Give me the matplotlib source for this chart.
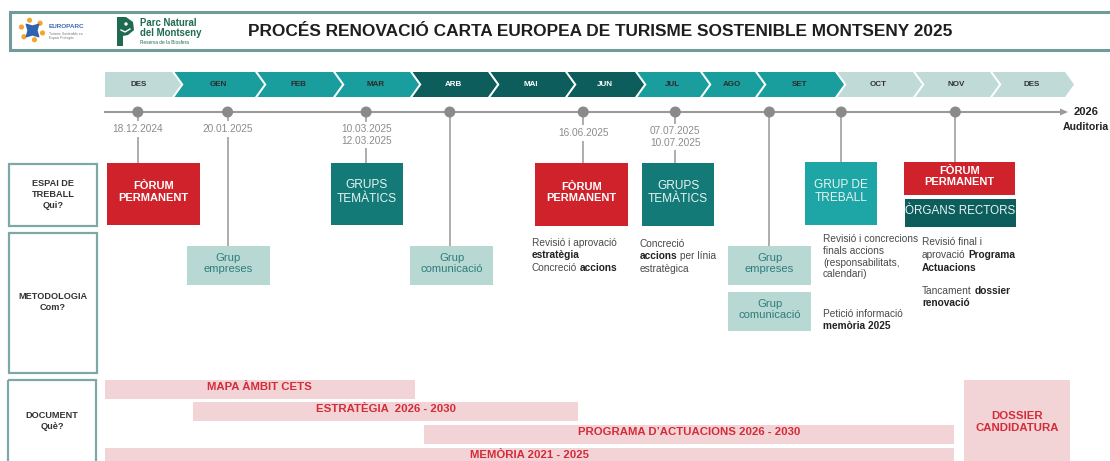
import numpy as np
import matplotlib
matplotlib.use("Agg")
import matplotlib.pyplot as plt
from matplotlib.patches import Rectangle, Polygon, Circle

plt.rcParams['font.family'] = ['Liberation Sans', 'DejaVu Sans']

# ---------------- data ----------------
title = "PROCÉS RENOVACIÓ CARTA EUROPEA DE TURISME SOSTENIBLE MONTSENY 2025"
months = ['DES', 'GEN', 'FEB', 'MAR', 'ARB', 'MAI', 'JUN', 'JUL', 'AGO', 'SET', 'OCT', 'NOV', 'DES']
month_phase = [0, 1, 1, 1, 2, 2, 2, 1, 1, 1, 0, 0, 0]   # 0 light, 1 teal, 2 dark

# events on the timeline, position in month units (0 = start of DES 2024)
event_month = [0.49, 1.67, 3.43, 4.51, 6.26, 7.62, 9.18, 10.08, 11.55]
event_dates = ['18.12.2024', '20.01.2025', '10.03.2025\n12.03.2025', '', '16.06.2025',
               '07.07.2025\n10.07.2025', '', '', '']

doc_labels = ['MAPA ÀMBIT CETS', 'ESTRATÈGIA  2026 - 2030',
              'PROGRAMA D\u2019ACTUACIONS 2026 - 2030', 'MEMÒRIA 2021 - 2025']
doc_start = [0.0, 1.25, 4.18, 0.0]
doc_end = [4.06, 6.19, 11.53, 11.53]
dossier_label = 'DOSSIER\nCANDIDATURA'
dossier_span = [11.66, 13.07]

row_labels = ['ESPAI DE\nTREBALL\nQui?', 'METODOLOGIA\nCom?', 'DOCUMENT\nQuè?']

# ---------------- layout / style ----------------
edges = [105, 172, 255, 333, 410, 488, 565, 635, 700, 755, 835, 913, 990, 1065]
def mx(m):
    m = np.asarray(m, dtype=float)
    base = np.interp(m, np.arange(len(edges)), edges)
    over = np.clip(m - (len(edges) - 1), 0, None) * (edges[-1] - edges[-2])
    return base + over

RED = '#d0222b'
DARK = '#0d5d5d'
MIDT = '#137a77'
TEAL = '#1a9d9d'
TEAL2 = '#1ea5a5'
LIGHT = '#b8d8d4'
CHEV_LIGHT = '#bfdad7'
PINK = '#f2d4d6'
REDTXT = '#d42b3a'
GREY = '#8c8c8c'
OUTL = '#7ea8a6'

fig = plt.figure(figsize=(11.1, 4.61), dpi=100)
ax = fig.add_axes([0, 0, 1, 1])
ax.set_xlim(0, 1110)
ax.set_ylim(461, 0)
ax.axis('off')
renderer = fig.canvas.get_renderer()

# ---------------- header ----------------
ax.plot([10, 1115], [12, 12], color='#6f9c99', lw=2.2, solid_capstyle='butt')
ax.plot([10, 1115], [50, 50], color='#6f9c99', lw=2.2, solid_capstyle='butt')
ax.plot([10, 10], [12, 50], color='#6f9c99', lw=2.2)
ax.text(600, 31, title, fontsize=12.4, fontweight='bold', color='#1e1e1e',
        ha='center', va='center')

# EUROPARC logo
for ang in np.linspace(0, 2 * np.pi, 7)[:-1] + 0.3:
    ax.add_patch(Circle((32 + 11 * np.cos(ang), 30 + 10 * np.sin(ang)), 2.6,
                        color='#f4a52a', lw=0))
ax.scatter([32], [30], marker=(4, 1, 45), s=160, color='#2f63b0', zorder=3)
ax.text(49, 27, 'EUROPARC', fontsize=4.6, fontweight='bold', color='#3b6db5', va='center')
ax.text(49, 34, 'Turisme Sostenible en', fontsize=2.4, color='#777', va='center')
ax.text(49, 38, 'Espais Protegits', fontsize=2.4, color='#777', va='center')

# Parc Natural logo
ax.add_patch(Polygon([[117, 17], [126, 17], [133, 22], [134, 30], [128, 35],
                      [123, 36], [123, 46], [117, 46]], closed=True,
                     facecolor='#1f6b52', edgecolor='none'))
ax.add_patch(Circle((126, 24), 1.7, color='white', lw=0))
ax.plot([121, 125, 130], [30, 32, 29], color='white', lw=1)
ax.text(140, 23, 'Parc Natural', fontsize=6.9, color='#1f6b52', fontweight='bold', va='center')
ax.text(140, 33, 'del Montseny', fontsize=6.9, color='#1f6b52', fontweight='bold', va='center')
ax.text(140, 43, 'Reserva de la Biosfera', fontsize=3.4, color='#1f6b52', va='center')

# ---------------- chevrons ----------------
y0, y1, d, gap = 72, 97, 9, 2.5
ym = (y0 + y1) / 2
phase_col = {0: CHEV_LIGHT, 1: TEAL, 2: DARK}
phase_txt = {0: '#333333', 1: '#2b2b2b', 2: 'white'}
for i, name in enumerate(months):
    L, R = mx(i), mx(i + 1)
    Lg = L + (gap if i > 0 else 0)
    pts = [[Lg, y0], [R, y0], [R + d, ym], [R, y1], [Lg, y1]]
    if i > 0:
        pts.append([Lg + d, ym])
    ax.add_patch(Polygon(pts, closed=True, facecolor=phase_col[month_phase[i]],
                         edgecolor='none'))
    ax.text((L + R) / 2 + (d / 2 if i > 0 else 0), ym, name, fontsize=5.8,
            fontweight='bold', color=phase_txt[month_phase[i]], ha='center', va='center')

# ---------------- timeline ----------------
ax.plot([105, 1062], [112, 112], color='#9a9a9a', lw=1.5, zorder=2)
ax.add_patch(Polygon([[1060, 108.5], [1068, 112], [1060, 115.5]], closed=True,
                     facecolor='#9a9a9a', edgecolor='none'))
ax.text(1074, 112, '2026', fontsize=8, fontweight='bold', color='#222', va='center')
ax.text(1063, 127, 'Auditoria', fontsize=7.6, fontweight='bold', color='#222', va='center')

# targets of each event connector
event_target = [163, 246, 163, 246, 163, 163, 246, 162, 162]
date_y = [129, 129, 135, 0, 133, 137, 0, 0, 0]
for m, lab, ty, dy in zip(event_month, event_dates, event_target, date_y):
    x = float(mx(m))
    ax.plot([x, x], [112, ty], color='#a0a0a0', lw=1.2, zorder=2)
    ax.add_patch(Circle((x, 112), 4.8, color='#8a8a8a', zorder=4))
    if lab:
        ax.text(x, dy, lab, fontsize=7.3, color=GREY, ha='center', va='center',
                linespacing=1.15, zorder=5,
                bbox=dict(boxstyle='square,pad=0.25', fc='white', ec='none'))

# ---------------- row label boxes ----------------
for (bx, by, bw, bh), lab, ty in zip([(9, 164, 88, 62), (9, 233, 88, 140), (8, 380, 88, 95)],
                                     row_labels, [194.5, 302, 421]):
    ax.add_patch(Rectangle((bx, by), bw, bh, facecolor='none', edgecolor=OUTL, lw=1.6))
    ax.text(bx + bw / 2, ty, lab, fontsize=6.6, fontweight='bold', color='#333',
            ha='center', va='center', linespacing=1.3)

# ---------------- boxes ----------------
def box(x, y, w, h, fc, txt, tc, bold, size):
    ax.add_patch(Rectangle((x, y), w, h, facecolor=fc, edgecolor='none', zorder=3))
    ax.text(x + w / 2, y + h / 2 - 2, txt, fontsize=size, fontweight='bold' if bold else 'normal',
            color=tc, ha='center', va='center', linespacing=1.22, zorder=4)

box(107, 163, 93, 62, RED, 'FÒRUM\nPERMANENT', 'white', True, 8)
box(331, 163, 72, 62, MIDT, 'GRUPS\nTEMÀTICS', '#e6f4f3', False, 8.6)
box(535, 163, 93, 63, RED, 'FÒRUM\nPERMANENT', 'white', True, 8)
box(642, 163, 72, 63, MIDT, 'GRUPS\nTEMÀTICS', '#e6f4f3', False, 8.6)
box(805, 162, 72, 63, TEAL2, 'GRUP DE\nTREBALL', '#e6f4f3', False, 8.6)
box(904, 162, 111, 33, RED, 'FÒRUM\nPERMANENT', 'white', True, 8)
box(905, 199, 111, 28, DARK, 'ÒRGANS RECTORS', '#e6f4f3', False, 8.4)

box(187, 246, 83, 39, LIGHT, 'Grup\nempreses', '#2f7d7a', False, 8.1)
box(410, 246, 83, 39, LIGHT, 'Grup\ncomunicació', '#2f7d7a', False, 8.1)
box(728, 246, 83, 39, LIGHT, 'Grup\nempreses', '#2f7d7a', False, 8.1)
box(728, 292, 83, 39, LIGHT, 'Grup\ncomunicació', '#2f7d7a', False, 8.1)

# ---------------- rich descriptions ----------------
DSIZE = 7.3
space_w = 0.26 * DSIZE * 100 / 72
def rich(x, y, segs):
    cx = x
    for k, (s, b) in enumerate(segs):
        t = ax.text(cx, y, s, fontsize=DSIZE, fontweight='bold' if b else 'normal',
                    color='#222' if b else '#4a4a4a', ha='left', va='center', zorder=5)
        cx += t.get_window_extent(renderer=renderer).width + space_w

def block(x, y, lines, step=12.3):
    for i, segs in enumerate(lines):
        rich(x, y + i * step, segs)

block(532, 243, [[('Revisió i aprovació', 0)], [('estratègia', 1)],
                 [('Concreció', 0), ('accions', 1)]])
block(640, 244, [[('Concreció', 0)], [('accions', 1), ('per línia', 0)],
                 [('estratègica', 0)]])
block(823, 239, [[('Revisió i concrecions', 0)], [('finals accions', 0)],
                 [('(responsabilitats,', 0)], [('calendari)', 0)]], step=11.8)
block(823, 314, [[('Petició informació', 0)], [('memòria 2025', 1)]])
block(922, 242, [[('Revisió final i', 0)], [('aprovació', 0), ('Programa', 1)],
                 [('Actuacions', 1)]], step=13)
block(922, 291, [[('Tancament', 0), ('dossier', 1)], [('renovació', 1)]])

# ---------------- documents ----------------
doc_y = [380, 402, 425, 448]
for lab, s, e, yy in zip(doc_labels, doc_start, doc_end, doc_y):
    xs, xe = float(mx(s)), float(mx(e))
    ax.add_patch(Rectangle((xs, yy), xe - xs, 19, facecolor=PINK, edgecolor='none'))
    ax.text((xs + xe) / 2, yy + 7.2, lab, fontsize=8.2, fontweight='bold', color=REDTXT,
            ha='center', va='center')
xs, xe = float(mx(dossier_span[0])), float(mx(dossier_span[1]))
ax.add_patch(Rectangle((xs, 380), xe - xs, 95, facecolor=PINK, edgecolor='none'))
ax.text((xs + xe) / 2, 422, dossier_label, fontsize=8.2, fontweight='bold', color=REDTXT,
        ha='center', va='center', linespacing=1.25)

fig.savefig('out.png', dpi=100)
